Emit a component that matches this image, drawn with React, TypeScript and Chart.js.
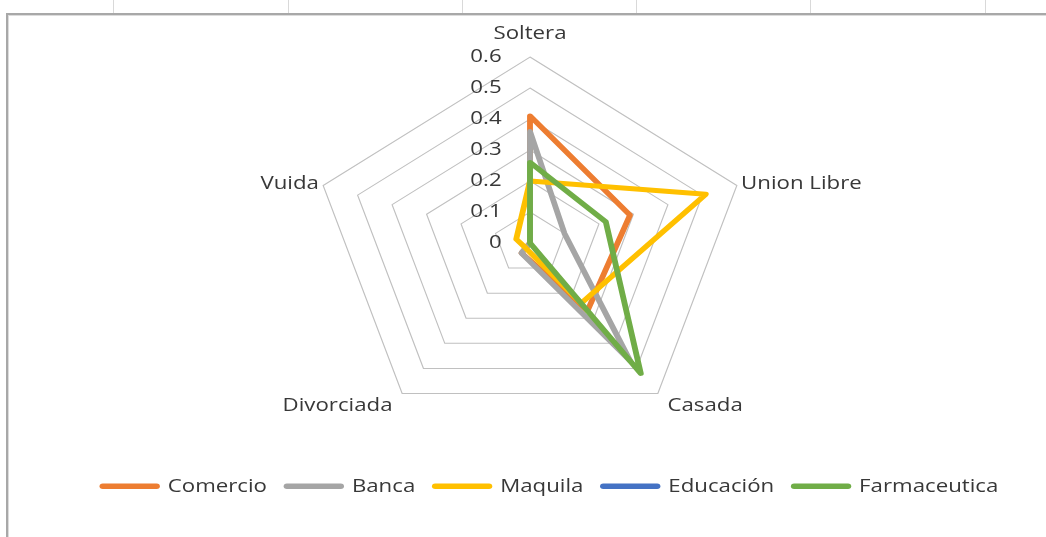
import React, { useEffect, useRef } from 'react';
import { Chart, registerables } from 'chart.js';

Chart.register(...registerables);

// ---------- data ----------
const AXES = ['Soltera', 'Union Libre', 'Casada', 'Divorciada', 'Vuida'];
const SERIES_NAMES = ['Comercio', 'Banca', 'Maquila', 'Educación', 'Farmaceutica'];
const COMERCIO = [0.41, 0.29, 0.27, 0.04, 0];
const BANCA = [0.36, 0.1, 0.47, 0.04, 0];
const MAQUILA = [0.2, 0.51, 0.24, 0.02, 0.04];
const EDUCACION = [0, 0, 0, 0, 0];
const FARMACEUTICA = [0.26, 0.22, 0.52, 0, 0];
const TICK_LABELS = ['0', '0.1', '0.2', '0.3', '0.4', '0.5', '0.6'];

// ---------- styles / layout ----------
const SERIES_COLORS = ['#ED7D31', '#A5A5A5', '#FFC000', '#4472C4', '#70AD47'];
const TEXT_COLOR = '#383838';
const GRID_COLOR = '#c0c0c0';
const FONT_FAMILY = "'Open Sans', 'Noto Sans', sans-serif";
const CANVAS_W = 1046;
const CANVAS_H = 537;
const CENTER_X = 530;
const CENTER_Y = 243;
const RADIUS_X = 217.5;
const RADIUS_Y = 186;
const TICK_SHIFT_PX = -44;
const LABEL_PADS = [11.8, -7.7, 2.5, 2.5, -7.7];
const COLUMN_MARKS = [113, 288, 462, 636, 810, 985];

const stretchPlugin = {
  id: 'excelStretch',
  beforeDraw(chart: any) {
    const r = chart.scales.r;
    const ctx = chart.ctx;
    ctx.save();
    ctx.translate(CENTER_X, CENTER_Y);
    ctx.scale(RADIUS_X / r.drawingArea, RADIUS_Y / r.drawingArea);
    ctx.translate(-r.xCenter, -r.yCenter);
  },
  afterDatasetsDraw(chart: any) {
    const r = chart.scales.r;
    chart.ctx.translate((TICK_SHIFT_PX * r.drawingArea) / RADIUS_X, 0);
  },
  afterDraw(chart: any) {
    chart.ctx.restore();
  },
};

export default function App() {
  const canvasRef = useRef<HTMLCanvasElement | null>(null);

  useEffect(() => {
    if (!canvasRef.current) return;
    const values = [COMERCIO, BANCA, MAQUILA, EDUCACION, FARMACEUTICA];
    const chart = new Chart(canvasRef.current, {
      type: 'radar',
      data: {
        labels: AXES,
        datasets: SERIES_NAMES.map((name, i) => ({
          label: name,
          data: values[i],
          borderColor: SERIES_COLORS[i],
          backgroundColor: SERIES_COLORS[i],
          borderWidth: 5,
          pointRadius: 0,
          pointHoverRadius: 0,
          pointStyle: 'line',
          fill: false,
          order: SERIES_NAMES.length - i,
          borderJoinStyle: i === 3 ? 'miter' : 'round',
          borderCapStyle: i === 3 ? 'butt' : 'round',
          clip: false,
        })),
      } as any,
      options: {
        animation: false,
        responsive: false,
        font: { family: FONT_FAMILY },
        layout: { padding: { top: 27, bottom: 31.5, left: 106, right: 107 } },
        scales: {
          r: {
            min: -1e-9,
            max: 0.6,
            angleLines: { display: false },
            grid: {
              color: GRID_COLOR,
              lineWidth: (c: any) => (c.index === 0 ? 0 : 1),
            },
            ticks: {
              stepSize: 0.1,
              z: 1,
              showLabelBackdrop: false,
              color: TEXT_COLOR,
              font: { family: FONT_FAMILY, size: 19 },
              callback: (_v: any, i: number) =>
                i === 0 ? '\u2007\u2008' + TICK_LABELS[i] : TICK_LABELS[i],
            },
            pointLabels: {
              color: TEXT_COLOR,
              font: { family: FONT_FAMILY, size: 19, lineHeight: 0.05 },
              padding: (c: any) => LABEL_PADS[c.index],
            },
          },
        },
        plugins: {
          tooltip: { enabled: false },
          legend: {
            position: 'bottom',
            align: 'end',
            title: { display: true, text: '', padding: 0, font: { size: 11.5, lineHeight: 1 } },
            labels: {
              usePointStyle: true,
              pointStyleWidth: 46,
              boxHeight: 19,
              padding: 17,
              color: TEXT_COLOR,
              font: { family: FONT_FAMILY, size: 19 },
              sort: (a: any, b: any) => a.datasetIndex - b.datasetIndex,
              generateLabels: (ch: any) =>
                (Chart.defaults.plugins.legend.labels as any)
                  .generateLabels(ch)
                  .map((l: any) => ({
                    ...l,
                    pointStyle: 'line',
                    lineWidth: 5.5,
                    lineCap: 'round',
                    fillStyle: l.strokeStyle,
                  })),
            },
          },
        },
      } as any,
      plugins: [stretchPlugin],
    });
    return () => chart.destroy();
  }, []);

  return (
    <div
      style={{
        position: 'fixed',
        left: 0,
        top: 0,
        width: CANVAS_W,
        height: CANVAS_H,
        background: '#fff',
        overflow: 'hidden',
      }}
    >
      {COLUMN_MARKS.map((x) => (
        <div
          key={x}
          style={{ position: 'absolute', left: x, top: 0, width: 1, height: 13, background: '#d9d9d9' }}
        />
      ))}
      <div
        style={{
          position: 'absolute',
          left: 6,
          top: 13,
          width: CANVAS_W + 20,
          height: CANVAS_H + 20,
          borderLeft: '2px solid #a8a8a8',
          borderTop: '2px solid #a8a8a8',
          boxShadow: 'inset 1px 1px 0 #dcdcdc',
        }}
      />
      <canvas
        ref={canvasRef}
        width={CANVAS_W}
        height={CANVAS_H}
        style={{ position: 'absolute', left: 0, top: 0 }}
      />
    </div>
  );
}
